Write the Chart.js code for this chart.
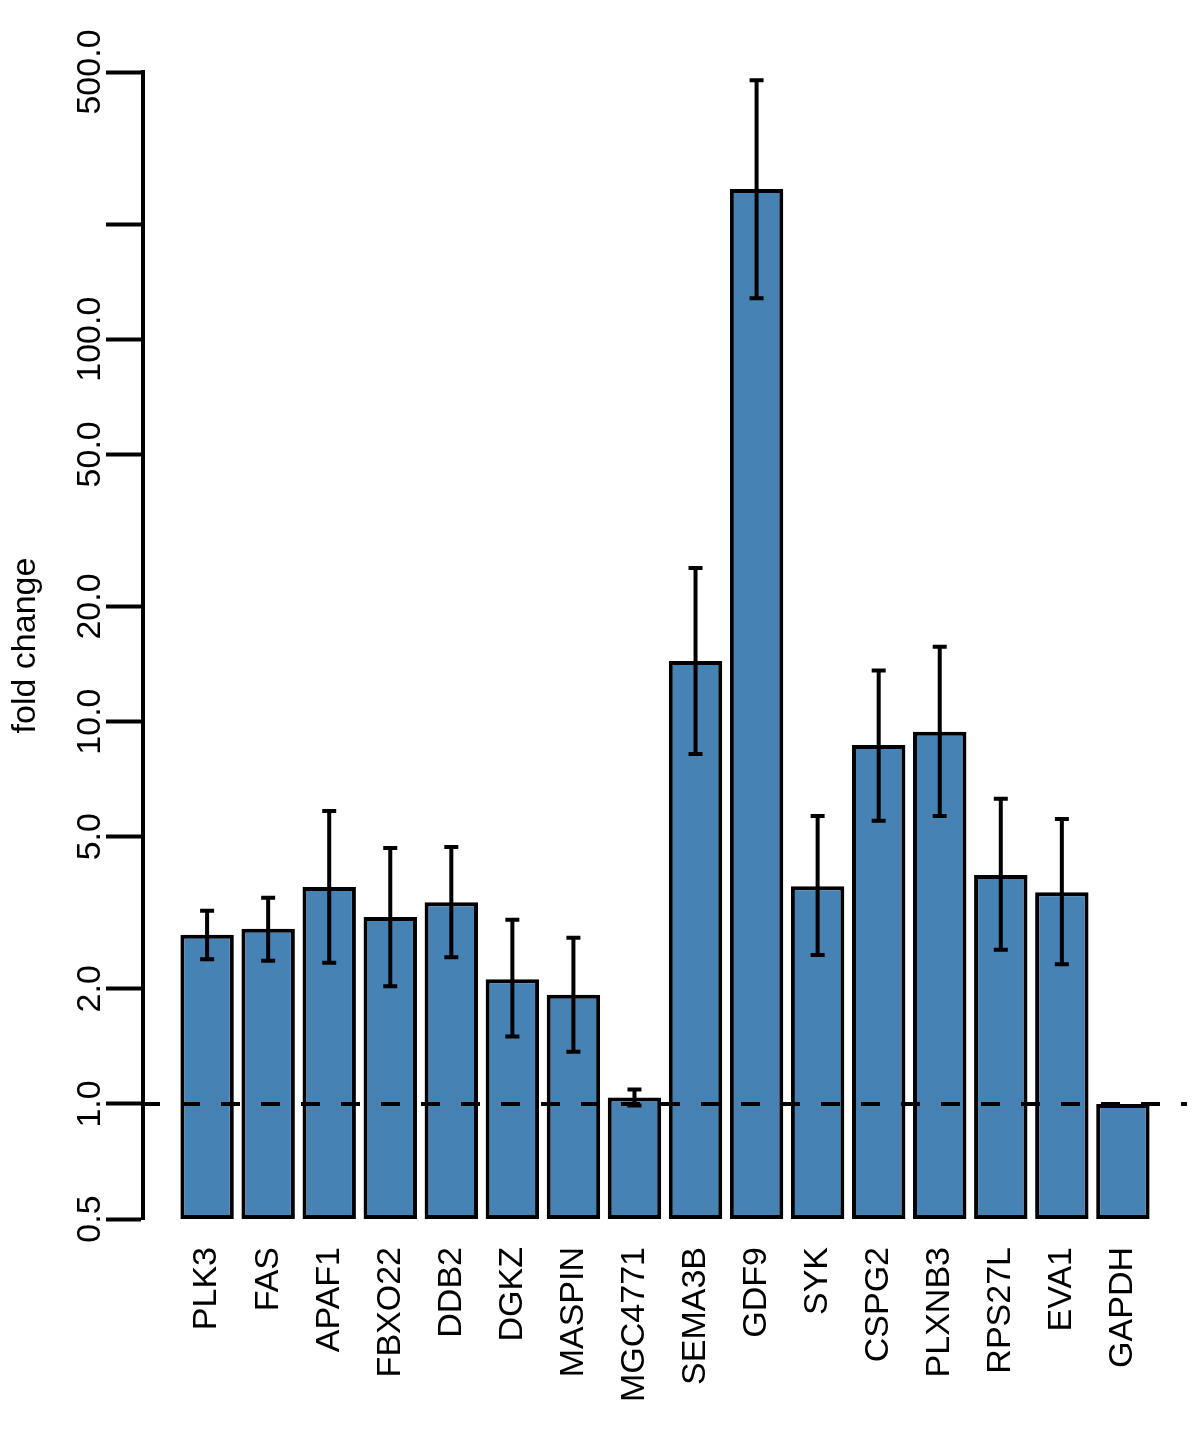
<!DOCTYPE html>
<html>
<head>
<meta charset="utf-8">
<script src="https://cdn.jsdelivr.net/npm/chart.js@4"></script>
<style>
  html, body { margin: 0; padding: 0; background: #fff; }
</style>
</head>
<body>
<canvas id="chart" width="1200" height="1434"></canvas>
<script>
// genes and fold change (log scale), with error bar limits
const genes = ['PLK3', 'FAS', 'APAF1', 'FBXO22', 'DDB2', 'DGKZ', 'MASPIN', 'MGC4771',
               'SEMA3B', 'GDF9', 'SYK', 'CSPG2', 'PLXNB3', 'RPS27L', 'EVA1', 'GAPDH'];
const foldChange = [2.77, 2.87, 3.69, 3.08, 3.37, 2.12, 1.93, 1.04,
                    14.4, 247, 3.71, 8.69, 9.40, 3.97, 3.58, 1.0];
const errLow  = [2.39, 2.37, 2.34, 2.03, 2.42, 1.50, 1.37, 0.99,
                 8.23, 128, 2.45, 5.50, 5.66, 2.53, 2.32, null];
const errHigh = [3.20, 3.46, 5.84, 4.67, 4.70, 3.03, 2.72, 1.09,
                 25.2, 476, 5.66, 13.6, 15.7, 6.28, 5.56, null];

const yTicks = [0.5, 1, 2, 5, 10, 20, 50, 100, 200, 500];
const yTickLabels = ['0.5', '1.0', '2.0', '5.0', '10.0', '20.0', '50.0', '100.0', '', '500.0'];

// same layout as R barplot: width 1, space 0.2
const barMids = genes.map((g, i) => 0.7 + 1.2 * i);

const FONT = { family: "'Liberation Sans', Arial, sans-serif", size: 34 };

const errorBars = {
  id: 'errorBars',
  afterDatasetsDraw(chart) {
    const { ctx, chartArea } = chart;
    const y = chart.scales.y;
    const meta = chart.getDatasetMeta(0);
    ctx.save();
    ctx.strokeStyle = '#000';
    ctx.lineWidth = 4;
    meta.data.forEach((bar, i) => {
      if (errLow[i] == null) return;
      const x = bar.x;
      const yl = y.getPixelForValue(errLow[i]);
      const yh = y.getPixelForValue(errHigh[i]);
      ctx.beginPath();
      ctx.moveTo(x, yl); ctx.lineTo(x, yh);
      ctx.moveTo(x - 7, yl); ctx.lineTo(x + 7, yl);
      ctx.moveTo(x - 7, yh); ctx.lineTo(x + 7, yh);
      ctx.stroke();
    });
    // dashed reference at fold change = 1
    const y1 = y.getPixelForValue(1);
    ctx.setLineDash([19, 21]);
    ctx.beginPath();
    ctx.moveTo(chartArea.left - 2, y1);
    ctx.lineTo(chartArea.right, y1);
    ctx.stroke();
    ctx.restore();
  }
};

new Chart(document.getElementById('chart').getContext('2d'), {
  type: 'bar',
  data: {
    datasets: [{
      data: barMids.map((x, i) => ({ x, y: [0.5, foldChange[i]] })),
      backgroundColor: '#4682B4',
      borderColor: '#000',
      borderWidth: 4,
      borderSkipped: false,
      categoryPercentage: 1,
      barPercentage: 0.875
    }]
  },
  options: {
    responsive: false,
    animation: false,
    layout: { padding: { top: 72, right: 13, left: 0, bottom: 0 } },
    plugins: { legend: { display: false }, tooltip: { enabled: false } },
    scales: {
      x: {
        type: 'linear',
        offset: false,
        min: -0.56,
        max: 19.96,
        grid: { display: false, drawTicks: false },
        border: { display: false },
        afterBuildTicks: s => { s.ticks = barMids.map(v => ({ value: v })); },
        afterFit: s => { s.height = 215; },
        ticks: {
          autoSkip: false,
          minRotation: 90,
          maxRotation: 90,
          padding: 28,
          color: '#000',
          font: FONT,
          callback: (v, i) => genes[i]
        }
      },
      y: {
        type: 'logarithmic',
        min: 0.5,
        max: 500,
        afterBuildTicks: s => { s.ticks = yTicks.map(v => ({ value: v })); },
        afterFit: s => { s.width = 143; },
        grid: { drawOnChartArea: false, drawTicks: true, tickLength: 37, tickWidth: 4, tickColor: '#000' },
        border: { display: true, color: '#000', width: 4 },
        ticks: {
          autoSkip: false,
          minRotation: 90,
          maxRotation: 90,
          crossAlign: 'center',
          padding: -27,
          color: '#000',
          font: FONT,
          callback: (v, i) => yTickLabels[i]
        },
        title: {
          display: true,
          text: 'fold change',
          color: '#000',
          font: FONT,
          padding: { top: 5, bottom: 0 }
        }
      }
    }
  },
  plugins: [errorBars]
});
</script>
</body>
</html>
